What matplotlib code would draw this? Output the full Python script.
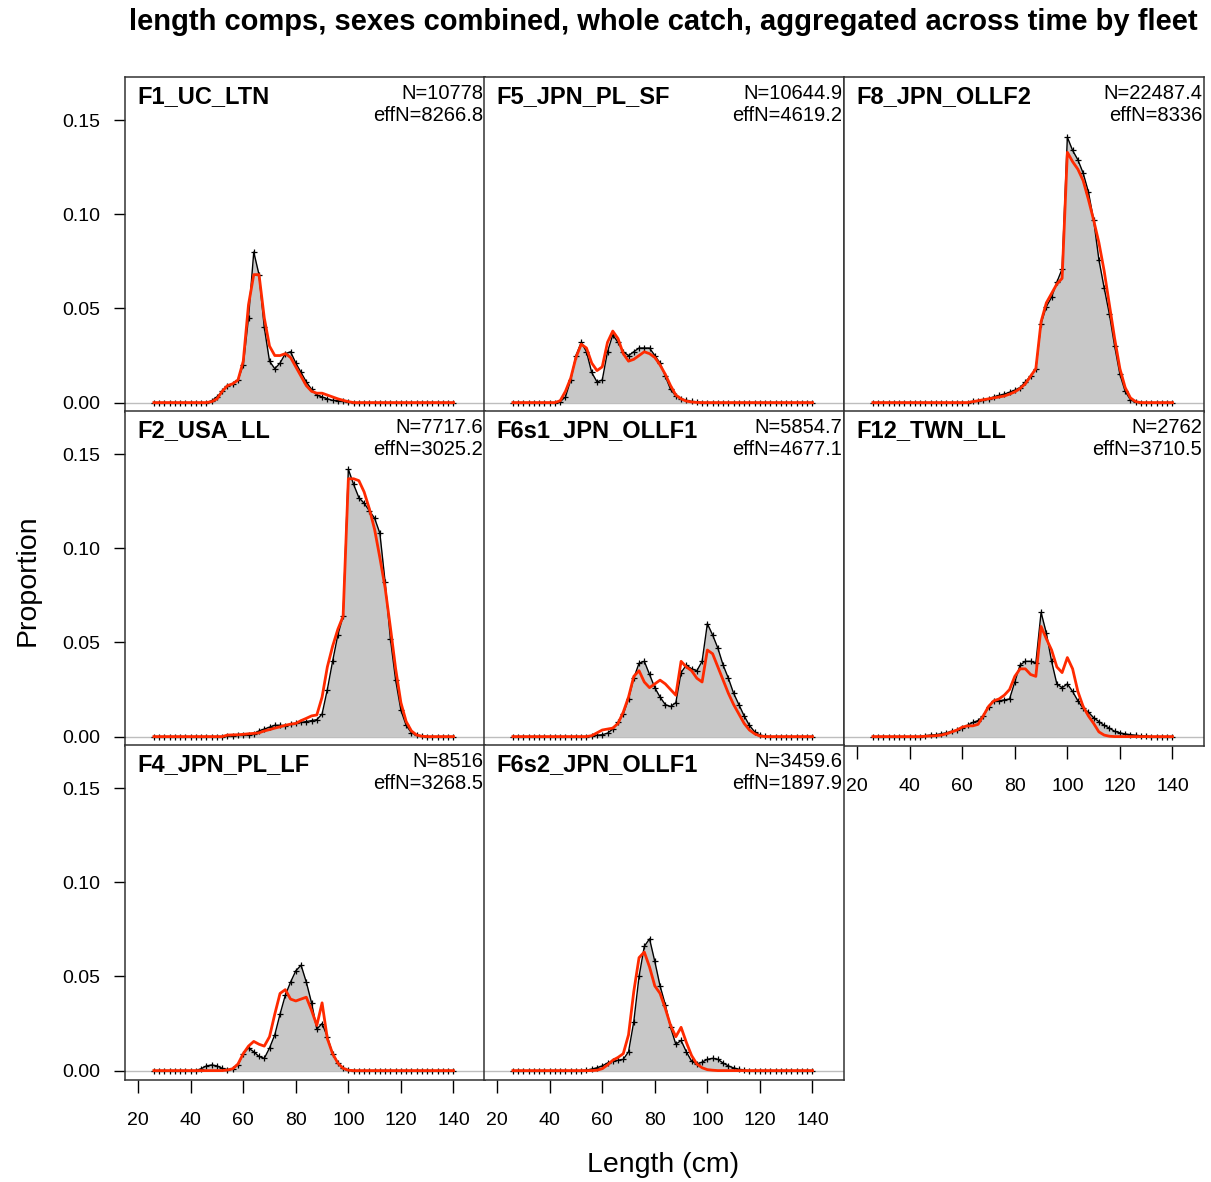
import matplotlib.pyplot as plt

plt.rcParams['font.family'] = ['Liberation Sans', 'DejaVu Sans']

# length bins (cm)
lengths = list(range(26, 141, 2))

fleets = ["F1_UC_LTN", "F5_JPN_PL_SF", "F8_JPN_OLLF2",
          "F2_USA_LL", "F6s1_JPN_OLLF1", "F12_TWN_LL",
          "F4_JPN_PL_LF", "F6s2_JPN_OLLF1"]
n_text = ["N=10778", "N=10644.9", "N=22487.4", "N=7717.6",
          "N=5854.7", "N=2762", "N=8516", "N=3459.6"]
effn_text = ["effN=8266.8", "effN=4619.2", "effN=8336", "effN=3025.2",
             "effN=4677.1", "effN=3710.5", "effN=3268.5", "effN=1897.9"]

obs_f1 = [0] * 11 + [0.001, 0.003, 0.006, 0.009, 0.010, 0.012, 0.020, 0.045, 0.080, 0.068,
                     0.040, 0.022, 0.018, 0.021, 0.026, 0.027, 0.021, 0.016, 0.011, 0.007,
                     0.004, 0.003, 0.002, 0.0012, 0.001, 0.0006, 0.0003] + [0] * 20
exp_f1 = [0] * 11 + [0.0005, 0.002, 0.006, 0.009, 0.010, 0.012, 0.022, 0.052, 0.068, 0.068,
                     0.045, 0.030, 0.025, 0.025, 0.026, 0.024, 0.019, 0.014, 0.009, 0.006,
                     0.005, 0.005, 0.004, 0.003, 0.002, 0.0012, 0.0005] + [0] * 20

obs_f5 = [0] * 9 + [0.0005, 0.003, 0.012, 0.025, 0.032, 0.027, 0.016, 0.011, 0.012, 0.027,
                    0.036, 0.032, 0.027, 0.025, 0.027, 0.029, 0.029, 0.029, 0.025, 0.021,
                    0.014, 0.007, 0.0035, 0.002, 0.0012, 0.0006, 0.0003] + [0] * 22
exp_f5 = [0] * 9 + [0.001, 0.006, 0.013, 0.024, 0.031, 0.029, 0.021, 0.017, 0.019, 0.032,
                    0.038, 0.034, 0.026, 0.022, 0.023, 0.025, 0.027, 0.026, 0.024, 0.020,
                    0.015, 0.009, 0.004, 0.002, 0.0008, 0.0003, 0.0001] + [0] * 22

obs_f8 = [0] * 19 + [0.0006, 0.001, 0.0015, 0.002, 0.003, 0.0038, 0.0045, 0.0055, 0.0066, 0.008,
                     0.011, 0.014, 0.018, 0.042, 0.051, 0.056, 0.064, 0.071, 0.141, 0.134,
                     0.129, 0.122, 0.112, 0.097, 0.076, 0.061, 0.047, 0.030, 0.015, 0.006,
                     0.0015, 0.0003] + [0] * 7
exp_f8 = [0] * 19 + [0.0005, 0.001, 0.0015, 0.002, 0.0025, 0.003, 0.0035, 0.0045, 0.0057, 0.0075,
                     0.010, 0.014, 0.018, 0.043, 0.053, 0.058, 0.063, 0.066, 0.133, 0.128,
                     0.124, 0.118, 0.108, 0.097, 0.085, 0.070, 0.052, 0.034, 0.018, 0.008,
                     0.0025, 0.0005] + [0] * 7

obs_f2 = [0] * 14 + [0.0003, 0.0005, 0.0006, 0.0008, 0.001, 0.0015, 0.003, 0.004, 0.005, 0.006,
                     0.006, 0.0058, 0.0065, 0.007, 0.0075, 0.008, 0.0085, 0.009, 0.012, 0.025,
                     0.040, 0.054, 0.064, 0.142, 0.134, 0.127, 0.124, 0.120, 0.116, 0.108,
                     0.082, 0.052, 0.030, 0.014, 0.006, 0.002, 0.0008, 0.0003] + [0] * 6
exp_f2 = [0] * 14 + [0.0008, 0.0009, 0.001, 0.0012, 0.0015, 0.0017, 0.002, 0.003, 0.0037, 0.0045,
                     0.0052, 0.006, 0.0066, 0.007, 0.0085, 0.0097, 0.011, 0.0115, 0.021, 0.037,
                     0.048, 0.057, 0.064, 0.137, 0.137, 0.136, 0.130, 0.121, 0.110, 0.095,
                     0.079, 0.058, 0.036, 0.018, 0.008, 0.003, 0.0008, 0.0002] + [0] * 6

obs_f6s1 = [0] * 15 + [0.0003, 0.0007, 0.001, 0.0018, 0.004, 0.0075, 0.012, 0.020, 0.031, 0.039,
                       0.040, 0.033, 0.026, 0.021, 0.017, 0.016, 0.018, 0.034, 0.038, 0.036,
                       0.035, 0.040, 0.060, 0.054, 0.047, 0.038, 0.031, 0.023, 0.017, 0.011,
                       0.006, 0.0025, 0.0008, 0.0002] + [0] * 9
exp_f6s1 = [0] * 15 + [0.0005, 0.002, 0.0035, 0.004, 0.0045, 0.007, 0.013, 0.021, 0.032, 0.035,
                       0.029, 0.026, 0.028, 0.030, 0.028, 0.025, 0.022, 0.040, 0.037, 0.035,
                       0.031, 0.029, 0.046, 0.044, 0.037, 0.030, 0.023, 0.017, 0.012, 0.007,
                       0.0035, 0.0015, 0.0003, 0] + [0] * 9

obs_f12 = [0] * 10 + [0.0005, 0.0008, 0.001, 0.0015, 0.002, 0.0028, 0.0035, 0.0045, 0.006, 0.0075,
                      0.0085, 0.011, 0.0155, 0.019, 0.019, 0.0195, 0.020, 0.029, 0.038, 0.040,
                      0.040, 0.039, 0.066, 0.055, 0.040, 0.028, 0.026, 0.028, 0.024, 0.019,
                      0.015, 0.013, 0.010, 0.008, 0.006, 0.0045, 0.0028, 0.002, 0.0014, 0.001,
                      0.0007, 0.0004, 0.0002] + [0] * 5
exp_f12 = [0] * 10 + [0.0002, 0.0003, 0.0005, 0.0008, 0.0015, 0.0025, 0.0035, 0.005, 0.0057, 0.0057,
                      0.0065, 0.011, 0.016, 0.019, 0.020, 0.022, 0.025, 0.032, 0.036, 0.036,
                      0.033, 0.032, 0.0585, 0.052, 0.046, 0.037, 0.034, 0.042, 0.036, 0.024,
                      0.016, 0.011, 0.007, 0.0025, 0.0008, 0.0002] + [0] * 12

obs_f4 = [0] * 9 + [0.001, 0.0025, 0.003, 0.0025, 0.0012, 0.0005, 0.0008, 0.003, 0.009, 0.012,
                    0.010, 0.0075, 0.0065, 0.012, 0.019, 0.030, 0.040, 0.047, 0.053, 0.056,
                    0.047, 0.036, 0.022, 0.025, 0.018, 0.009, 0.004, 0.0012, 0.0003] + [0] * 20
exp_f4 = [0] * 9 + [0, 0, 0, 0, 0, 0.0003, 0.001, 0.0035, 0.009, 0.013,
                    0.0155, 0.014, 0.013, 0.018, 0.030, 0.041, 0.043, 0.038, 0.037, 0.038,
                    0.039, 0.032, 0.024, 0.036, 0.017, 0.009, 0.004, 0.0012, 0.0002] + [0] * 20

obs_f6s2 = [0] * 14 + [0.0003, 0.0008, 0.0015, 0.0025, 0.004, 0.005, 0.0055, 0.006, 0.010, 0.026,
                       0.050, 0.066, 0.070, 0.058, 0.045, 0.035, 0.023, 0.014, 0.016, 0.010,
                       0.005, 0.0035, 0.0045, 0.006, 0.0065, 0.006, 0.004, 0.0025, 0.0014, 0.0007,
                       0.0002] + [0] * 13
exp_f6s2 = [0] * 14 + [0, 0, 0.0002, 0.001, 0.003, 0.0055, 0.007, 0.009, 0.019, 0.042,
                       0.060, 0.063, 0.055, 0.045, 0.041, 0.033, 0.024, 0.018, 0.023, 0.015,
                       0.008, 0.0035, 0.0015, 0.0005, 0.0002] + [0] * 19

observed = [obs_f1, obs_f5, obs_f8, obs_f2, obs_f6s1, obs_f12, obs_f4, obs_f6s2]
expected = [exp_f1, exp_f5, exp_f8, exp_f2, exp_f6s1, exp_f12, exp_f4, exp_f6s2]

W, H = 1211, 1182
fig = plt.figure(figsize=(W / 100, H / 100), dpi=100)

col_left = [125, 484, 844]
row_top = [77, 411, 745]
pw, ph = 360, 335

xticks = [20, 40, 60, 80, 100, 120, 140]
yticks = [0.0, 0.05, 0.10, 0.15]

for i, name in enumerate(fleets):
    r, c = divmod(i, 3)
    ax = fig.add_axes([col_left[c] / W, 1 - (row_top[r] + ph) / H, pw / W, ph / H])
    obs = observed[i]
    exp = expected[i]
    ax.axhline(0, color='#bebebe', lw=1, zorder=1)
    ax.fill_between(lengths, obs, 0, color='#c8c8c8', lw=0, zorder=2)
    ax.plot(lengths, obs, color='black', lw=1.0, marker='+', ms=4, mew=0.9, zorder=3)
    ax.plot(lengths, exp, color='#ff2a00', lw=2.0, zorder=4)

    ax.set_xlim(15, 152)
    ax.set_ylim(-0.005, 0.173)
    ax.set_xticks(xticks)
    ax.set_yticks(yticks)
    ax.set_yticklabels(['0.00', '0.05', '0.10', '0.15'])
    for s in ax.spines.values():
        s.set_color('#333333')
        s.set_linewidth(1.1)

    show_y = (c == 0)
    show_x = (r == 2) or (r == 1 and c == 2)
    ax.tick_params(axis='y', direction='out', length=8, width=1, labelsize=14,
                   pad=10, left=show_y, labelleft=show_y)
    ax.tick_params(axis='x', direction='out', length=9, width=1, labelsize=14,
                   pad=14, bottom=show_x, labelbottom=show_x)

    ax.text(0.035, 0.943, name, transform=ax.transAxes, fontsize=17,
            fontweight='bold', ha='left', va='center')
    ax.text(0.995, 0.952, n_text[i], transform=ax.transAxes, fontsize=14.5,
            ha='right', va='center')
    ax.text(0.995, 0.884, effn_text[i], transform=ax.transAxes, fontsize=14.5,
            ha='right', va='center')

fig.text(0.5475, 0.981, 'length comps, sexes combined, whole catch, aggregated across time by fleet',
         fontsize=21, fontweight='bold', ha='center', va='center')
fig.text(0.023, 0.509, 'Proportion', rotation=90, fontsize=20.5, ha='center', va='center')
fig.text(0.5475, 0.0144, 'Length (cm)', fontsize=20.5, ha='center', va='center')

fig.savefig('out.png', dpi=100)
